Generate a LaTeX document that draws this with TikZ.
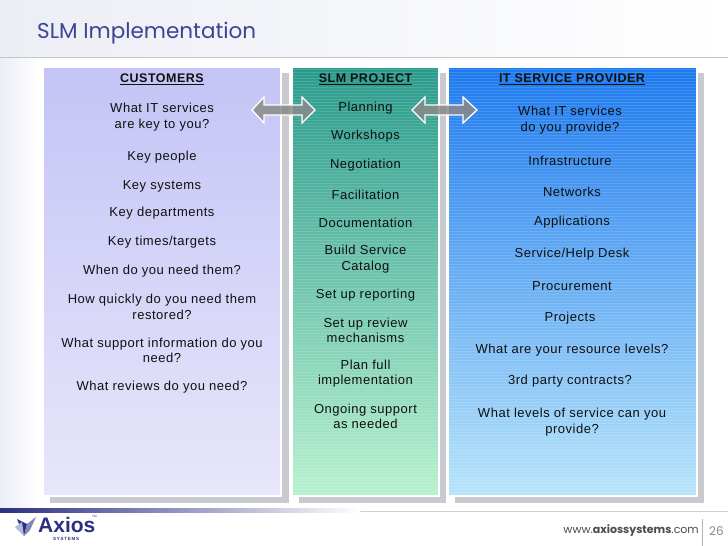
\documentclass[tikz,border=0pt]{standalone}
\usepackage{fontspec}
\setmainfont{Liberation Sans}[LetterSpace=4]
\newfontfamily\titlefont{Poppins}
\newfontfamily\plainsans{Liberation Sans}
\definecolor{titleblue}{HTML}{3D4494}
\definecolor{navy}{HTML}{2B2F80}
\definecolor{shadowgrey}{HTML}{C9CACF}
\definecolor{arrowgrey}{HTML}{8A8A8A}
\definecolor{txt}{HTML}{101010}
\definecolor{custtop}{HTML}{C4C4F6}
\definecolor{custbot}{HTML}{E8E6FA}
\definecolor{slmtop}{HTML}{2A9A8C}
\definecolor{slmbot}{HTML}{B8F1D0}
\definecolor{ittop}{HTML}{1C79EE}
\definecolor{itbot}{HTML}{B8E5FA}
\definecolor{logomid}{HTML}{7F86B8}
\definecolor{logolight}{HTML}{B5BAD8}
\definecolor{bgtint}{HTML}{ECEEF5}
\newcommand{\ul}[1]{\underline{#1}}
\tikzset{
  item/.style={align=center, text=txt, font=\fontsize{13}{15.5}\selectfont, inner sep=0pt},
  head/.style={align=center, text=txt, font=\fontsize{12.5}{15.5}\selectfont\bfseries, inner sep=0pt},
  panelshadow/.style={fill=shadowgrey, draw=none},
  panel/.style={draw=white, line width=1.2pt},
  blockarrow/.style={fill=arrowgrey, fill opacity=0.85, draw=white, line width=1.3pt},
  stripe/.style={white, opacity=0.13, line width=0.9pt}
}
\begin{document}
\begin{tikzpicture}[x=1pt,y=-1pt]
\useasboundingbox (0,0) rectangle (728,546);
% background
\fill[white] (0,0) rectangle (728,546);
\shade[left color=bgtint, right color=white] (0,0) rectangle (728,57);
\shade[left color=bgtint, right color=white] (0,57) rectangle (40,510);
\draw[black!22, line width=0.8pt] (0,57.5) -- (728,57.5);
% title
\node[anchor=west, text=titleblue, font=\titlefont\fontsize{21.5}{26}\selectfont, inner sep=0pt] (title) at (37,33) {SLM Implementation};
% shadows
\fill[panelshadow] (50,73) rectangle (289,503);
\fill[panelshadow] (299,73) rectangle (446,503);
\fill[panelshadow] (455,73) rectangle (704,503);
% panels
\shade[top color=custtop, bottom color=custbot] (43,67) rectangle (281,496);
\shade[top color=slmtop, bottom color=slmbot] (292,67) rectangle (439,496);
\shade[top color=ittop, bottom color=itbot] (448,67) rectangle (697,496);
\foreach \yy in {69,72,...,495} {
  \draw[stripe] (292,\yy) -- (439,\yy);
  \draw[stripe] (448,\yy) -- (697,\yy);
}
\node[panel, minimum width=238pt, minimum height=429pt, inner sep=0pt] (pcust) at (162,281.5) {};
\node[panel, minimum width=147pt, minimum height=429pt, inner sep=0pt] (pslm) at (365.5,281.5) {};
\node[panel, minimum width=249pt, minimum height=429pt, inner sep=0pt] (pit) at (572.5,281.5) {};
\begin{scope}[yshift=-1.5pt]
% customers column
\node[head] (c0) at (162,78) {\ul{CUSTOMERS}};
\node[item] (c1) at (162,115.5) {What IT services\\ are key to you?};
\node[item] (c2) at (162,156) {Key people};
\node[item] (c3) at (162,185) {Key systems};
\node[item] (c4) at (162,212) {Key departments};
\node[item] (c5) at (162,241) {Key times/targets};
\node[item] (c6) at (162,269.5) {When do you need them?};
\node[item] (c7) at (162,305.5) {How quickly do you need them\\ restored?};
\node[item] (c8) at (162,349) {What support information do you\\ need?};
\node[item] (c9) at (162,385.5) {What reviews do you need?};
% SLM project column
\node[head] (s0) at (365.5,78) {\ul{SLM PROJECT}};
\node[item] (s1) at (365.5,107) {Planning};
\node[item] (s2) at (365.5,135) {Workshops};
\node[item] (s3) at (365.5,164) {Negotiation};
\node[item] (s4) at (365.5,193) {Facilitation};
\node[item] (s5) at (365.5,221) {Documentation};
\node[item] (s6) at (365.5,257.5) {Build Service\\ Catalog};
\node[item] (s7) at (365.5,294) {Set up reporting};
\node[item] (s8) at (365.5,329) {Set up review\\ mechanisms};
\node[item] (s9) at (365.5,372) {Plan full\\ implementation};
\node[item] (s10) at (365.5,415) {Ongoing support\\ as needed};
% IT service provider column
\node[head] (p0) at (572,78) {\ul{IT SERVICE PROVIDER}};
\node[item] (p1) at (570,118.5) {What IT services\\ do you provide?};
\node[item] (p2) at (570,159) {Infrastructure};
\node[item] (p3) at (572,190) {Networks};
\node[item] (p4) at (572,221) {Applications};
\node[item] (p5) at (572,253) {Service/Help Desk};
\node[item] (p6) at (572,285) {Procurement};
\node[item] (p7) at (570,317) {Projects};
\node[item] (p8) at (572,349) {What are your resource levels?};
\node[item] (p9) at (570,380) {3rd party contracts?};
\node[item] (p10) at (572,420.5) {What levels of service can you\\ provide?};
\end{scope}
% block arrows
\draw[blockarrow] (252,110) -- (264,97) -- (264,105) -- (302,105) -- (302,97) -- (315,110)
  -- (302,123) -- (302,115) -- (264,115) -- (264,123) -- cycle;
\draw[blockarrow] (412,110) -- (425,97) -- (425,105) -- (463,105) -- (463,97) -- (477,110)
  -- (463,123) -- (463,115) -- (425,115) -- (425,123) -- cycle;
% footer
\draw[black!18, line width=0.7pt] (0,511) -- (728,511);
\shade[left color=navy, right color=white] (0,508) rectangle (360,512.5);
\fill[white] (0,513) rectangle (728,546);
% logo
\fill[navy] (17,519) -- (24,536) -- (27,524) -- cycle;
\fill[logomid] (24,536) -- (27,524) -- (36,517) -- (30,530) -- cycle;
\fill[logolight] (15,527) -- (22,522) -- (24,536) -- cycle;
\node[anchor=west, text=navy, font=\plainsans\bfseries\fontsize{21}{22}\selectfont, inner sep=0pt] (axios) at (38,525) {Axios};
\node[anchor=west, text=navy, font=\plainsans\fontsize{3}{4}\selectfont, inner sep=0pt] (tm) at (92,516) {TM};
\node[anchor=west, text=navy, font=\plainsans\bfseries\fontsize{4.5}{5}\selectfont, inner sep=0pt] (systems) at (53,539) {S\,Y\,S\,T\,E\,M\,S};
\node[anchor=east, text=black!70, font=\titlefont\fontsize{11}{13}\selectfont, inner sep=0pt] (web) at (699,531) {www.\textbf{axiossystems}.com};
\draw[black!30, line width=0.6pt] (702.5,519) -- (702.5,546);
\node[anchor=west, text=black!45, font=\titlefont\fontsize{12}{13}\selectfont, inner sep=0pt] (pg) at (709,531) {26};
\end{tikzpicture}
\end{document}
